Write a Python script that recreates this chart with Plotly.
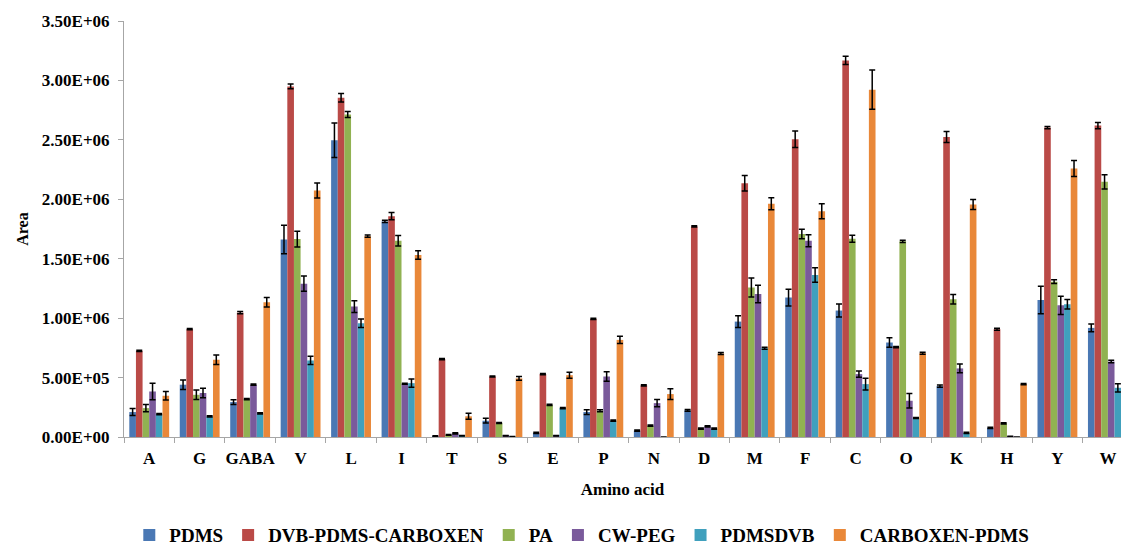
import plotly.graph_objects as go

amino_acids = ["A", "G", "GABA", "V", "L", "I", "T", "S", "E", "P",
               "N", "D", "M", "F", "C", "O", "K", "H", "Y", "W"]

series_names = ["PDMS", "DVB-PDMS-CARBOXEN", "PA", "CW-PEG", "PDMSDVB", "CARBOXEN-PDMS"]
series_colors = ["#4A78B4", "#BA4A47", "#91B252", "#7A5A9B", "#40A0BD", "#E98839"]

# values in units of 1E+06
pdms = [0.21, 0.44, 0.294, 1.662, 2.496, 1.814, 0.008, 0.137, 0.034, 0.21,
        0.053, 0.224, 0.971, 1.173, 1.064, 0.795, 0.428, 0.076, 1.153, 0.918]
pdms_err = [0.03, 0.04, 0.02, 0.12, 0.145, 0.01, 0.002, 0.02, 0.005, 0.02,
            0.005, 0.008, 0.05, 0.07, 0.055, 0.04, 0.01, 0.005, 0.115, 0.032]

dvb = [0.725, 0.907, 1.046, 2.949, 2.854, 1.858, 0.655, 0.509, 0.529, 0.994,
       0.434, 1.772, 2.135, 2.505, 3.168, 0.756, 2.524, 0.907, 2.603, 2.62]
dvb_err = [0.005, 0.005, 0.01, 0.02, 0.035, 0.03, 0.005, 0.005, 0.005, 0.005,
           0.005, 0.005, 0.065, 0.07, 0.035, 0.005, 0.047, 0.008, 0.01, 0.027]

pa = [0.243, 0.355, 0.319, 1.665, 2.714, 1.651, 0.017, 0.118, 0.271, 0.221,
      0.095, 0.07, 1.257, 1.707, 1.668, 1.646, 1.159, 0.115, 1.307, 2.147]
pa_err = [0.03, 0.04, 0.005, 0.067, 0.025, 0.045, 0.003, 0.005, 0.005, 0.008,
          0.005, 0.005, 0.08, 0.04, 0.03, 0.01, 0.04, 0.005, 0.015, 0.06]

cw = [0.383, 0.37, 0.44, 1.29, 1.097, 0.448, 0.031, 0.01, 0.01, 0.509,
      0.285, 0.09, 1.203, 1.651, 0.529, 0.305, 0.577, 0.006, 1.108, 0.635]
cw_err = [0.07, 0.04, 0.005, 0.064, 0.05, 0.005, 0.005, 0.002, 0.002, 0.04,
          0.03, 0.005, 0.073, 0.05, 0.027, 0.06, 0.037, 0.001, 0.077, 0.01]

pdmsdvb = [0.193, 0.173, 0.199, 0.644, 0.957, 0.453, 0.01, 0.003, 0.243, 0.137,
           0.0, 0.07, 0.747, 1.363, 0.445, 0.16, 0.034, 0.0, 1.117, 0.414]
pdmsdvb_err = [0.005, 0.005, 0.005, 0.035, 0.035, 0.035, 0.002, 0.001, 0.005, 0.005,
               0.0, 0.005, 0.008, 0.06, 0.05, 0.005, 0.005, 0.0, 0.04, 0.035]

carboxen = [0.347, 0.65, 1.133, 2.073, 1.69, 1.531, 0.174, 0.493, 0.52, 0.817,
            0.361, 0.702, 1.962, 1.90, 2.922, 0.705, 1.956, 0.445, 2.259, 1.0]
carboxen_err = [0.035, 0.04, 0.04, 0.063, 0.01, 0.035, 0.025, 0.015, 0.025, 0.03,
                0.045, 0.008, 0.05, 0.063, 0.165, 0.008, 0.042, 0.005, 0.067, 0.04]

y_tickvals = [0, 0.5e6, 1.0e6, 1.5e6, 2.0e6, 2.5e6, 3.0e6, 3.5e6]
y_ticktext = ["0.00E+00", "5.00E+05", "1.00E+06", "1.50E+06", "2.00E+06",
              "2.50E+06", "3.00E+06", "3.50E+06"]

all_vals = [pdms, dvb, pa, cw, pdmsdvb, carboxen]
all_errs = [pdms_err, dvb_err, pa_err, cw_err, pdmsdvb_err, carboxen_err]

fig = go.Figure()
for name, color, vals, errs in zip(series_names, series_colors, all_vals, all_errs):
    fig.add_trace(go.Bar(
        name="<b>" + name + "</b>",
        x=amino_acids,
        y=[v * 1e6 for v in vals],
        marker=dict(color=color, line=dict(width=0)),
        error_y=dict(type="data", array=[e * 1e6 for e in errs], visible=True,
                     color="black", thickness=1.5, width=3),
    ))

font_family = "Liberation Serif, Times New Roman, serif"
fig.update_layout(
    width=1121, height=545,
    margin=dict(l=124, r=0, t=21, b=108),
    paper_bgcolor="white", plot_bgcolor="white",
    barmode="group", bargap=0.21, bargroupgap=0,
    font=dict(family=font_family, color="black"),
    showlegend=True,
    legend=dict(orientation="h", xref="container", yref="container",
                x=0.519, xanchor="center", y=0.0183, yanchor="middle",
                font=dict(family=font_family, size=19, color="black"),
                traceorder="normal", tracegroupgap=0),
    xaxis=dict(
        range=[-0.5, 19.26],
        tickmode="array", tickvals=amino_acids,
        ticktext=["<b>" + a + "</b>" for a in amino_acids],
        tickangle=0,
        showline=True, linecolor="#A6A6A6", linewidth=1,
        ticks="outside", tickson="boundaries", ticklen=5, tickcolor="#A6A6A6",
        ticklabelstandoff=6,
        tickfont=dict(family=font_family, size=17, color="black"),
        title=dict(text="<b>Amino acid</b>", font=dict(family=font_family, size=17, color="black"),
                   standoff=15),
        showgrid=False, zeroline=False,
    ),
    yaxis=dict(
        range=[0, 3.5e6],
        tickvals=y_tickvals, ticktext=["<b>" + t + "</b>" for t in y_ticktext],
        showline=True, linecolor="#A6A6A6", linewidth=1,
        ticks="outside", ticklen=5, tickcolor="#A6A6A6",
        ticklabelstandoff=5,
        tickfont=dict(family=font_family, size=17, color="black"),
        title=dict(text="<b>Area</b>", font=dict(family=font_family, size=16, color="black"),
                   standoff=9),
        showgrid=False, zeroline=False,
    ),
)

fig.write_html("out.html")
